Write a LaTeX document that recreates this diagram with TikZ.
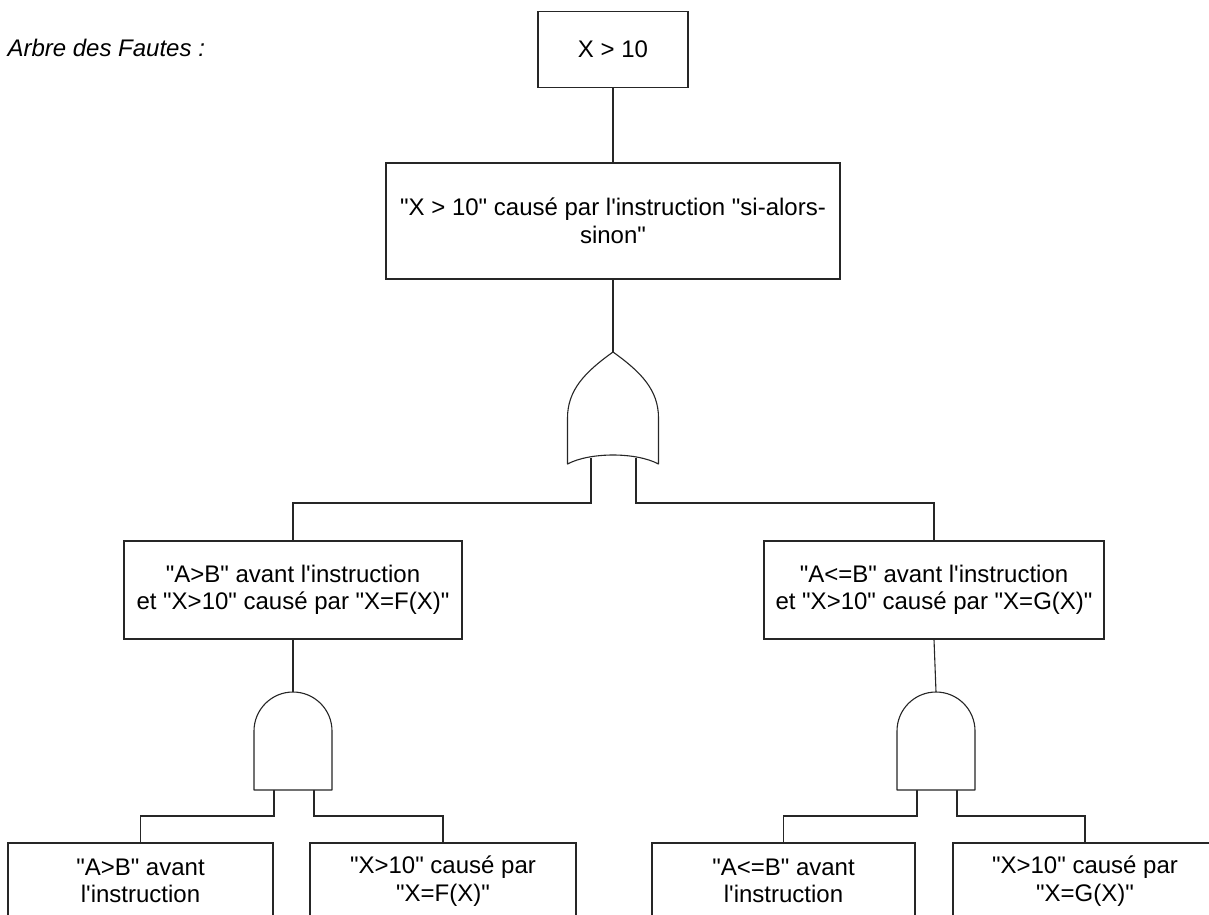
\documentclass[tikz,border=0pt]{standalone}
\usepackage{fontspec}
\setmainfont{Liberation Sans}[Ligatures=TeXOff]
\begin{document}
\begin{tikzpicture}[x=1pt,y=-1pt,
  every node/.style={font=\fontsize{24}{27.5}\selectfont},
  box/.style={draw=black!85, line width=1.1pt, fill=white, align=center, inner sep=0pt},
  wire/.style={draw=black!85, line width=1.1pt},
  gate/.style={draw=black!85, line width=1.1pt, fill=white, line join=round}]
\useasboundingbox (0,0) rectangle (1209,914);
\clip (0,0) rectangle (1209,914);

% title
\node[anchor=base west, font=\fontsize{24}{27.5}\selectfont\itshape] (title) at (4,56) {Arbre des Fautes :};

% events
\node[box, minimum width=150pt, minimum height=75.5pt] (top) at (613,49.5) {X > 10};
\node[box, minimum width=454pt, minimum height=116pt] (cause) at (613,221)
  {"X > 10" causé par l'instruction "si-alors-\\sinon"};
\node[box, minimum width=338pt, minimum height=98pt] (left) at (293,590)
  {"A>B" avant l'instruction\\et "X>10" causé par "X=F(X)"};
\node[box, minimum width=340pt, minimum height=98pt] (right) at (934,590)
  {"A<=B" avant l'instruction\\et "X>10" causé par "X=G(X)"};
\node[box, minimum width=265pt, minimum height=76pt] (ll) at (140.5,881) {"A>B" avant\\l'instruction};
\node[box, minimum width=266pt, minimum height=76pt] (lr) at (443,881) {"X>10" causé par\\"X=F(X)"};
\node[box, minimum width=263pt, minimum height=76pt] (rl) at (783.5,881) {"A<=B" avant\\l'instruction};
\node[box, minimum width=264pt, minimum height=76pt] (rr) at (1085,881) {"X>10" causé par\\"X=G(X)"};

% gate terminals
\coordinate (orTop) at (613,352);
\coordinate (orA) at (591,458);
\coordinate (orB) at (636,458);
\coordinate (andLTop) at (293,692);
\coordinate (andLA) at (274,790);
\coordinate (andLB) at (314,790);
\coordinate (andRTop) at (936,692);
\coordinate (andRA) at (917,790);
\coordinate (andRB) at (957,790);

% connectors
\draw[wire] (top.south) -- (cause.north);
\draw[wire] (cause.south) -- (orTop);
\draw[wire] (orA) -- ++(0,45) -| (left.north);
\draw[wire] (orB) -- ++(0,45) -| (right.north);
\draw[wire] (left.south) -- (andLTop);
\draw[wire] (right.south) -- (andRTop);
\draw[wire] (andLA) -- ++(0,26) -| (ll.north);
\draw[wire] (andLB) -- ++(0,26) -| (lr.north);
\draw[wire] (andRA) -- ++(0,26) -| (rl.north);
\draw[wire] (andRB) -- ++(0,26) -| (rr.north);

% OR gate
\draw[gate] (orTop) .. controls (585,372) and (567.5,390) .. (567.5,418)
  -- (567.5,464) .. controls (590,452) and (636,452) .. (658.5,464)
  -- (658.5,418) .. controls (658.5,390) and (641,372) .. (orTop) -- cycle;

% AND gates
\draw[gate] (254,790) -- (254,731) arc[start angle=180, end angle=0, radius=39pt] -- (332,790) -- cycle;
\draw[gate] (897,790) -- (897,731) arc[start angle=180, end angle=0, radius=39pt] -- (975,790) -- cycle;
\end{tikzpicture}
\end{document}
